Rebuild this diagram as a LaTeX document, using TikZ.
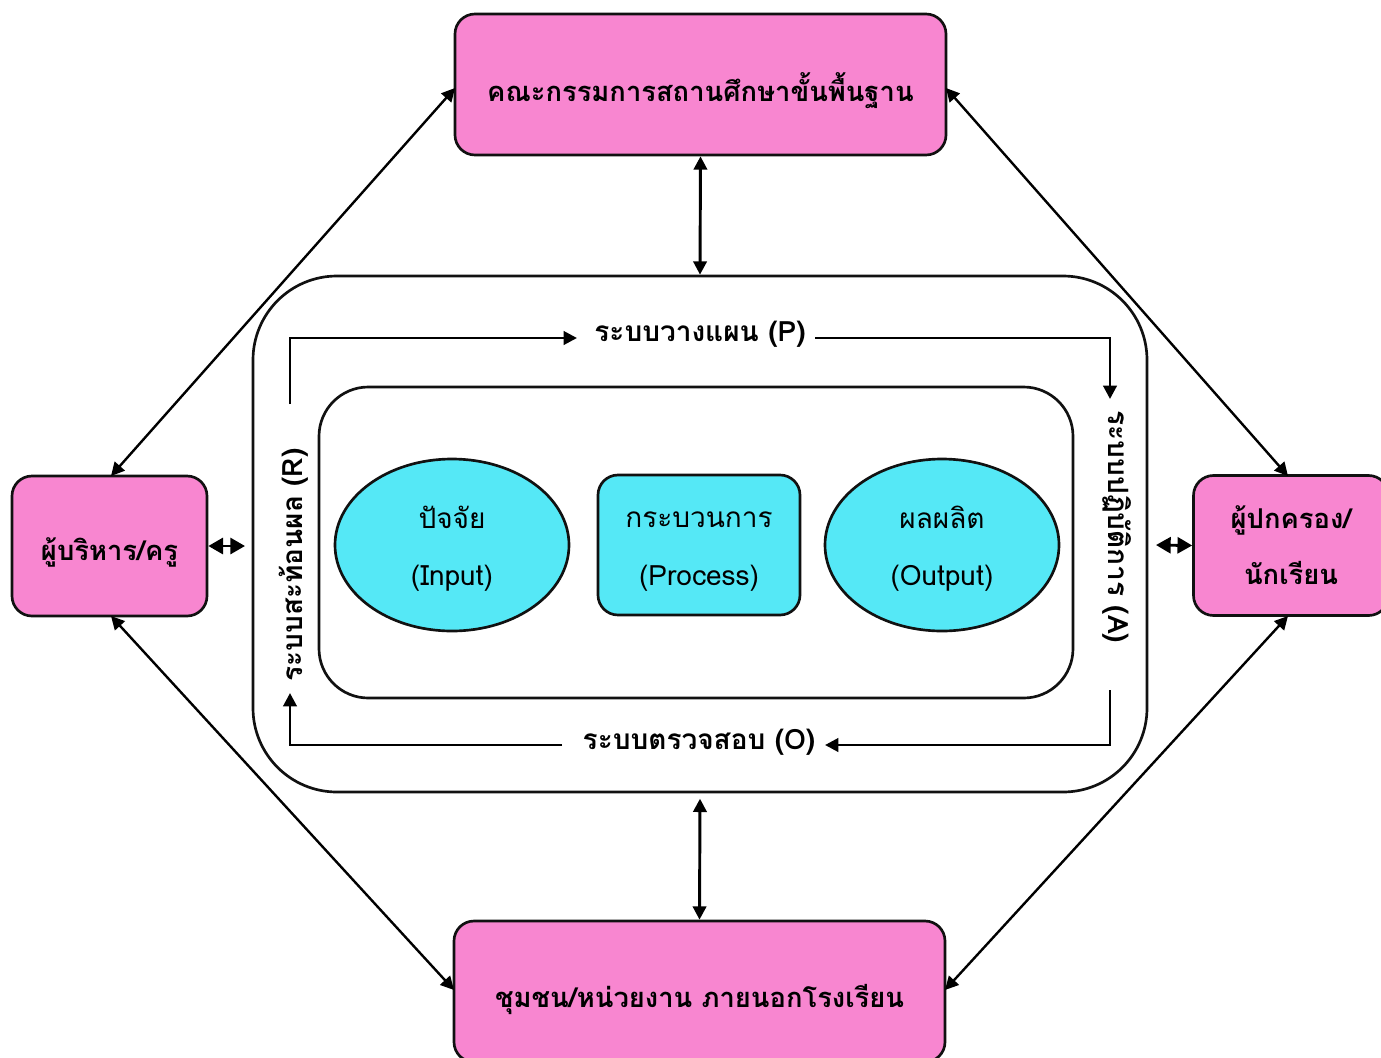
\documentclass[tikz,border=0pt]{standalone}
\usepackage{fontspec}
\newfontfamily\thaifont[Script=Thai]{Loma}
\usetikzlibrary{arrows.meta,shapes.geometric}
\definecolor{boxpink}{HTML}{F886D0}
\definecolor{boxcyan}{HTML}{55E8F6}
\definecolor{edge}{HTML}{111111}
\newcommand{\lowr}[2]{\raisebox{-#1}[\height][\depth]{#2}}
\begin{document}
\begin{tikzpicture}[x=0.75pt,y=-0.75pt,
  every node/.style={font=\thaifont},
  pinkbox/.style={draw=edge,line width=2pt,fill=boxpink,rounded corners=15pt,align=center,font=\thaifont\bfseries\fontsize{20.5}{42}\selectfont},
  cyanshape/.style={draw=edge,line width=2pt,fill=boxcyan,align=center,font=\thaifont\fontsize{21}{43}\selectfont},
  frame/.style={draw=edge,line width=2pt},
  looplab/.style={font=\thaifont\bfseries\fontsize{21}{24}\selectfont,inner sep=0pt},
  conn/.style={line width=2.2pt,draw=black},
  dconn/.style={line width=1.8pt,draw=black},
  tip/.style={-{Triangle[length=10pt,width=10pt]}},
  dtip/.style={{Triangle[length=10pt,width=10pt]}-{Triangle[length=10pt,width=10pt]}},
  stip/.style={{Triangle[length=11pt,width=12pt]}-{Triangle[length=11pt,width=12pt]}}
]
\useasboundingbox (0,0) rectangle (1381,1057);

% outer and inner frames
\node[frame,rounded corners=63pt,minimum width=670.5pt,minimum height=387pt,inner sep=0pt] (outer) at (700,534) {};
\node[frame,rounded corners=37pt,minimum width=565.5pt,minimum height=233.25pt,inner sep=0pt] (inner) at (696,542.5) {};

% outer boxes
\node[pinkbox,minimum width=368.25pt,minimum height=105.75pt] (top) at (700.5,84.5) {\lowr{4.5pt}{คณะกรรมการสถานศึกษาขั้นพื้นฐาน}};
\node[pinkbox,minimum width=368.25pt,minimum height=105.75pt] (bottom) at (699.5,991.5) {\lowr{6pt}{ชุมชน/หน่วยงาน ภายนอกโรงเรียน}};
\node[pinkbox,minimum width=146.25pt,minimum height=105pt] (left) at (109.5,546) {\lowr{4.5pt}{ผู้บริหาร/ครู}};
\node[pinkbox,minimum width=146.25pt,minimum height=105pt] (right) at (1291,545.5) {ผู้ปกครอง/\\นักเรียน};

% inner shapes
\node[cyanshape,ellipse,minimum width=175.5pt,minimum height=129pt,inner sep=0pt] (input) at (452,545) {\lowr{3pt}{ปัจจัย}\\\lowr{3pt}{(Input)}};
\node[cyanshape,rounded corners=15pt,minimum width=151.5pt,minimum height=105pt,inner sep=0pt] (process) at (699,545) {\lowr{5pt}{กระบวนการ}\\\lowr{5pt}{(Process)}};
\node[cyanshape,ellipse,minimum width=175.5pt,minimum height=129pt,inner sep=0pt] (output) at (942,545) {\lowr{3pt}{ผลผลิต}\\\lowr{3pt}{(Output)}};

% loop labels
\node[looplab] (P) at (700,334) {ระบบวางแผน (P)};
\node[looplab] (O) at (699,742) {ระบบตรวจสอบ (O)};
\node[looplab,rotate=-90] (A) at (1117,527) {ระบบปฏิบัติการ (A)};
\node[looplab,rotate=90] (R) at (294,565) {ระบบสะท้อนผล (R)};

\coordinate (p0) at (290,404);
\coordinate (p1) at (290,338);
\coordinate (p2) at (577,338);
\coordinate (p3) at (815,338);
\coordinate (p4) at (1110,338);
\coordinate (p5) at (1110,399);
\coordinate (o0) at (1110,690);
\coordinate (o1) at (1110,745);
\coordinate (o2) at (825,745);
\coordinate (o3) at (562,745);
\coordinate (o4) at (290,745);
\coordinate (o5) at (290,693);

\draw[conn,tip] (p0) -- (p1) -- (p2);
\draw[conn,tip] (p3) -- (p4) -- (p5);
\draw[conn,tip] (o0) -- (o1) -- (o2);
\draw[conn,tip] (o3) -- (o4) -- (o5);

% connectors
\draw[conn,dtip] (top.south) -- (outer.north);
\draw[conn,dtip] (bottom.north) -- ([yshift=-4pt]outer.south);
\coordinate (lr) at (245,546);
\coordinate (rl) at (1156,545);
\draw[conn,stip] (left.east) -- (lr);
\draw[conn,stip] (right.west) -- (rl);
\coordinate (topL) at (455,88);
\coordinate (topR) at (946,88);
\coordinate (botL) at (454,990);
\coordinate (botR) at (945,990);
\coordinate (leftT) at (111,476);
\coordinate (leftB) at (111,616);
\coordinate (rightT) at (1288,476);
\coordinate (rightB) at (1288,616);
\draw[dconn,dtip] (topL) -- (leftT);
\draw[dconn,dtip] (topR) -- (rightT);
\draw[dconn,dtip] (leftB) -- (botL);
\draw[dconn,dtip] (rightB) -- (botR);
\end{tikzpicture}
\end{document}
